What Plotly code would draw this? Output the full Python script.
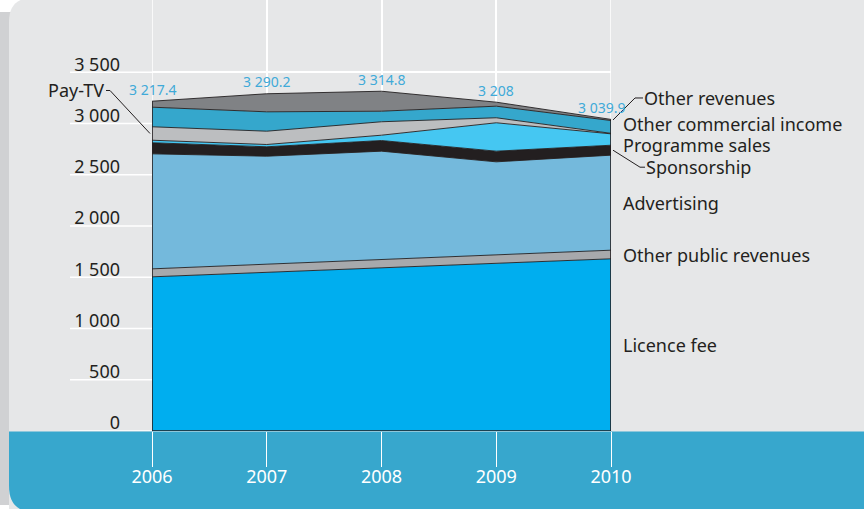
import plotly.graph_objects as go

# ---------------- data ----------------
years = [2006, 2007, 2008, 2009, 2010]
licence_fee = [1504, 1548, 1592, 1636, 1680]
other_public = [78, 80, 81, 82, 84]
advertising = [1122, 1053, 1057, 908, 927]
sponsorship = [108, 92, 104, 104, 97]
programme_sales = [25, 22, 52, 277, 111]
pay_tv = [131, 130, 131, 49, 5]
other_commercial = [191, 189, 103, 113, 125]
other_revenues = [58.4, 176.2, 194.8, 39, 10.9]
totals = [3217.4, 3290.2, 3314.8, 3208, 3039.9]
y_ticks = [0, 500, 1000, 1500, 2000, 2500, 3000, 3500]

series = [
    ("Licence fee", licence_fee, "#00aeef"),
    ("Other public revenues", other_public, "#a7a9ac"),
    ("Advertising", advertising, "#74b9dc"),
    ("Sponsorship", sponsorship, "#231f20"),
    ("Programme sales", programme_sales, "#45c7f2"),
    ("Pay-TV", pay_tv, "#bcbec0"),
    ("Other commercial income", other_commercial, "#35a7cc"),
    ("Other revenues", other_revenues, "#808285"),
]

# ---------------- geometry helpers (layout only) ----------------
W, H = 864, 509
PL, PR, PT, PB = 152, 611, 0, 431
YMAX = PB / 0.1025


def xp(px):
    return (px - PL) / (PR - PL)


def yp(py):
    return (PB - py) / (PB - PT)


def data_px(x):
    return PL + (x - years[0]) / (years[-1] - years[0]) * (PR - PL)


def data_py(y):
    return PB - y / YMAX * (PB - PT)


def fmt(v):
    s = "{:,}".format(v)
    return s.replace(",", " ")


DARK = "#231f20"
FONT = "Noto Sans"

fig = go.Figure()

# stacked areas
cum = [0] * len(years)
mids = {}
for name, vals, col in series:
    lower = cum[:]
    cum = [c + v for c, v in zip(cum, vals)]
    mids[name] = [(lo + up) / 2 for lo, up in zip(lower, cum)]
    fig.add_trace(go.Scatter(
        x=years, y=vals, name=name, stackgroup="rev", mode="lines",
        line=dict(color=DARK, width=0.9), fillcolor=col,
        showlegend=False, hoverinfo="x+y+name"))

# outline of the block (left, bottom, right edges)
fig.add_trace(go.Scatter(
    x=[years[0], years[0], years[-1], years[-1]],
    y=[cum[0], 0, 0, cum[-1]], mode="lines",
    line=dict(color=DARK, width=1.6), showlegend=False, hoverinfo="skip"))

shapes = []
# left shadow and grey panel
shapes.append(dict(type="rect", xref="paper", yref="paper", layer="below",
                   x0=xp(0), x1=xp(14), y0=yp(505), y1=yp(12),
                   fillcolor="#d0d1d3", line=dict(width=0)))
panel = ("M {a},{b} L {a},{c} Q {a},{d} {e},{d} L {f},{d} L {f},{b} Z").format(
    a=xp(9), b=yp(512), c=yp(22), d=yp(-2), e=xp(32), f=xp(870))
shapes.append(dict(type="path", xref="paper", yref="paper", layer="below",
                   path=panel, fillcolor="#e6e7e8", line=dict(width=0)))
# bottom teal band
band = ("M {a},{t} L {f},{t} L {f},{b} L {g},{b} Q {a},{b} {a},{h} Z").format(
    a=xp(9), t=yp(431.5), f=xp(870), b=yp(512), g=xp(34), h=yp(486))
shapes.append(dict(type="path", xref="paper", yref="paper", layer="below",
                   path=band, fillcolor="#37a7cd", line=dict(width=0)))
# left extension of horizontal gridlines
for t in y_ticks:
    shapes.append(dict(type="line", xref="paper", yref="y", layer="below",
                       x0=xp(70), x1=0, y0=t, y1=t,
                       line=dict(color="white", width=1.5)))
# vertical gridlines at the two edge years
for x in (years[0], years[-1]):
    shapes.append(dict(type="line", xref="x", yref="paper", layer="below",
                       x0=x, x1=x, y0=0, y1=1,
                       line=dict(color="white", width=1.5)))


# leader lines: start at a layer midpoint, pixel offsets (dx, dy up)
def leader(xa, ya, pts):
    bx, by = data_px(xa), data_py(ya)
    coords = [(xp(bx + dx), yp(by - dy)) for dx, dy in pts]
    path = "M " + " L ".join("{},{}".format(a, b) for a, b in coords)
    return dict(type="path", xref="paper", yref="paper", path=path,
                line=dict(color=DARK, width=1))


shapes.append(leader(years[-1], mids["Other revenues"][-1],
                     [(2, 0), (24, 22), (32, 22)]))
shapes.append(leader(years[-1], mids["Sponsorship"][-1],
                     [(2, 0), (29, -17), (34, -17)]))
shapes.append(leader(years[0], mids["Pay-TV"][0],
                     [(-2, 0), (-42, 43), (-46, 43)]))

annotations = []
# total labels
for i, (x, t) in enumerate(zip(years, totals)):
    annotations.append(dict(
        x=x, y=cum[i], xref="x", yref="y", text=fmt(t), showarrow=False,
        yshift=12, xshift=(-10 if i == len(years) - 1 else 0),
        font=dict(family=FONT, size=14, color="#3faad8")))

# right-hand labels
label_font = dict(family=FONT, size=18, color=DARK)
right = [
    ("Licence fee", 11, 0),
    ("Other public revenues", 11, 0),
    ("Advertising", 11, 0),
    ("Sponsorship", 34, -17),
    ("Programme sales", 11, -5),
    ("Other commercial income", 11, 3),
    ("Other revenues", 32, 22),
]
for name, dx, dy in right:
    annotations.append(dict(
        x=years[-1], y=mids[name][-1], xref="x", yref="y", text=name,
        showarrow=False, xanchor="left", xshift=dx, yshift=dy,
        borderpad=0, font=label_font))
annotations.append(dict(
    x=years[0], y=mids["Pay-TV"][0], xref="x", yref="y", text="Pay-TV",
    showarrow=False, xanchor="right", xshift=-46, yshift=43, font=label_font))

fig.update_layout(
    width=W, height=H,
    margin=dict(l=PL, r=W - PR, t=PT, b=H - PB),
    paper_bgcolor="white", plot_bgcolor="rgba(0,0,0,0)",
    separators=". ",
    shapes=shapes, annotations=annotations,
    showlegend=False,
    xaxis=dict(range=[years[0], years[-1]], tickvals=years,
               ticktext=[str(y) for y in years],
               showgrid=True, gridcolor="white", gridwidth=1.5,
               zeroline=False, showline=False,
               ticks="outside", ticklen=35, tickcolor="white", tickwidth=1,
               ticklabelstandoff=-6,
               tickfont=dict(family=FONT, size=18, color="white")),
    yaxis=dict(range=[0, YMAX], tickvals=y_ticks,
               ticktext=[fmt(t) for t in y_ticks],
               showgrid=True, gridcolor="white", gridwidth=1.5,
               zeroline=False, showline=False, ticks="",
               ticklabelstandoff=31, ticklabelshift=-8,
               tickfont=dict(family=FONT, size=18, color=DARK)),
)

fig.write_html(
    "out.html",
    config={"displayModeBar": False},
    post_script="document.body.style.margin='0';"
                "document.body.style.overflow='hidden';")
